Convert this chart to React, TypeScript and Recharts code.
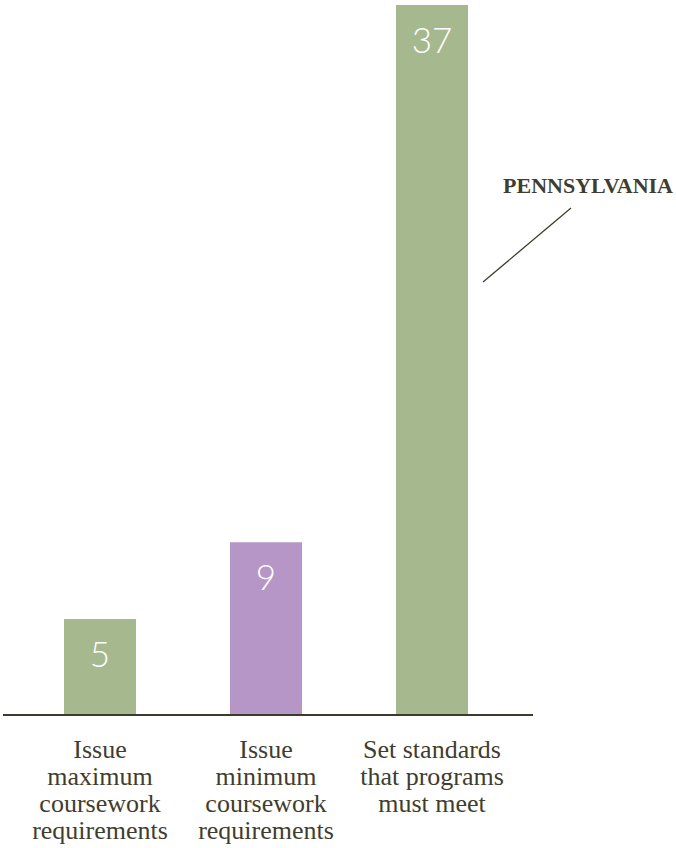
import { BarChart, Bar, XAxis, YAxis, Cell, LabelList } from "recharts"

const categories = [
  ["Issue", "maximum", "coursework", "requirements"],
  ["Issue", "minimum", "coursework", "requirements"],
  ["Set standards", "that programs", "must meet"]
]
const counts = [5, 9, 37]
const barColors = ["#a6b88e", "#b596c7", "#a6b88e"]
const calloutText = "PENNSYLVANIA"

const INK = "#3f3d2e"

const data = categories.map((lines, i) => ({
  key: "c" + i,
  lines,
  count: counts[i]
}))

function CategoryTick(props: any) {
  const { x, y, payload } = props
  const lines: string[] = data[payload.index]?.lines ?? []
  return (
    <text
      x={x}
      y={y}
      textAnchor="middle"
      fill={INK}
      fontFamily="'Liberation Serif', 'DejaVu Serif', serif"
      fontSize={26}
    >
      {lines.map((ln, i) => (
        <tspan key={i} x={x} y={y + 35 + i * 27}>
          {ln}
        </tspan>
      ))}
    </text>
  )
}

function ValueLabel(props: any) {
  const { x, y, width, value } = props
  return (
    <text
      x={x + width / 2}
      y={y + 48}
      textAnchor="middle"
      fill="#ffffff"
      fontFamily="Lato, 'Open Sans', sans-serif"
      fontWeight={300}
      fontSize={35}
    >
      {value}
    </text>
  )
}

export default function App() {
  return (
    <div style={{ position: "absolute", left: 0, top: 0, width: 676, height: 848 }}>
      <BarChart
        width={676}
        height={848}
        data={data}
        margin={{ top: 5, right: 143, bottom: 3, left: 3 }}
      >
        <XAxis
          dataKey="key"
          height={130}
          padding={{ left: 14, right: 18 }}
          tickLine={false}
          axisLine={{ stroke: "#3b3a2c", strokeWidth: 2 }}
          tick={<CategoryTick />}
          interval={0}
        />
        <YAxis hide domain={[0, 37]} />
        <Bar dataKey="count" barSize={72} isAnimationActive={false}>
          {data.map((d, i) => (
            <Cell key={d.key} fill={barColors[i]} />
          ))}
          <LabelList dataKey="count" content={<ValueLabel />} />
        </Bar>
      </BarChart>

      <svg
        width={676}
        height={848}
        style={{ position: "absolute", left: 0, top: 0, pointerEvents: "none" }}
      >
        <text
          x={673}
          y={193}
          textAnchor="end"
          fill={INK}
          fontFamily="'Liberation Serif', serif"
          fontWeight={700}
          fontSize={22}
        >
          {calloutText}
        </text>
        <line x1={571} y1={208} x2={483} y2={282} stroke={INK} strokeWidth={1.3} />
      </svg>
    </div>
  )
}
